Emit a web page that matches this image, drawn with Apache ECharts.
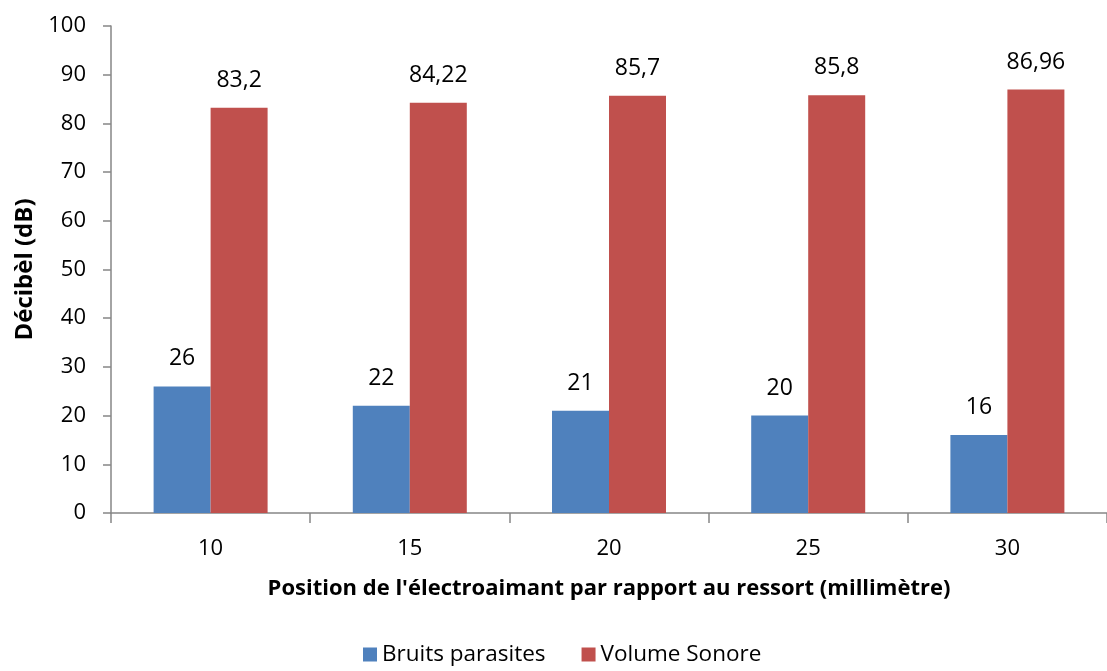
<!DOCTYPE html>
<html>
<head>
<meta charset="utf-8">
<script src="https://cdn.jsdelivr.net/npm/echarts@6/dist/echarts.min.js"></script>
<style>
html,body{margin:0;padding:0;background:#fff;}
#chart{width:1107px;height:671px;}
</style>
</head>
<body>
<div id="chart"></div>
<script>
// Distance of the electromagnet from the spring (mm)
const positions = ['10', '15', '20', '25', '30'];
// Parasitic noise (dB)
const bruitsParasites = [26, 22, 21, 20, 16];
// Sound volume (dB)
const volumeSonore = [83.2, 84.22, 85.7, 85.8, 86.96];

const FONT = '"Open Sans", "Noto Sans", sans-serif';
const AXIS_GRAY = '#868686';

// French decimal comma in the value labels
function frLabel(p) {
  return String(p.value).replace('.', ',');
}

const chart = echarts.init(document.getElementById('chart'), null, {renderer: 'canvas'});
chart.setOption({
  animation: false,
  textStyle: {fontFamily: FONT},
  grid: {left: 111, top: 26, width: 1005, height: 487, containLabel: false},
  legend: {
    bottom: 0,
    left: 358,
    itemWidth: 14,
    itemHeight: 14,
    itemGap: 36,
    icon: 'rect',
    textStyle: {fontSize: 22.5, color: '#000', fontFamily: FONT},
    data: ['Bruits parasites', 'Volume Sonore']
  },
  xAxis: {
    type: 'category',
    data: positions,
    name: "Position de l'électroaimant par rapport au ressort (millimètre)",
    nameLocation: 'middle',
    nameGap: 65,
    nameTextStyle: {fontSize: 22, fontWeight: 'bold', color: '#000', fontFamily: FONT},
    axisLine: {lineStyle: {color: AXIS_GRAY, width: 1.5}},
    axisTick: {show: true, alignWithLabel: false, length: 10, lineStyle: {color: AXIS_GRAY, width: 1.5}},
    axisLabel: {fontSize: 22, color: '#000', margin: 25, fontFamily: FONT}
  },
  yAxis: {
    type: 'value',
    min: 0,
    max: 100,
    interval: 10,
    name: 'Décibèl (dB)',
    nameLocation: 'middle',
    nameGap: 74,
    nameTextStyle: {fontSize: 24, fontWeight: 'bold', color: '#000', fontFamily: FONT},
    axisLine: {show: true, lineStyle: {color: AXIS_GRAY, width: 1.5}},
    axisTick: {show: true, length: 8, lineStyle: {color: AXIS_GRAY, width: 1.5}},
    axisLabel: {fontSize: 22, color: '#000', margin: 25, fontFamily: FONT},
    splitLine: {show: false}
  },
  series: [
    {
      name: 'Bruits parasites',
      type: 'bar',
      data: bruitsParasites,
      barWidth: 57,
      barGap: '0%',
      itemStyle: {color: '#4F81BD'},
      label: {show: true, position: 'top', distance: 16, fontSize: 23, color: '#000', fontFamily: FONT, formatter: frLabel}
    },
    {
      name: 'Volume Sonore',
      type: 'bar',
      data: volumeSonore,
      barWidth: 57,
      barGap: '0%',
      itemStyle: {color: '#C0504D'},
      label: {show: true, position: 'top', distance: 16, fontSize: 23, color: '#000', fontFamily: FONT, formatter: frLabel}
    }
  ]
});
</script>
</body>
</html>
